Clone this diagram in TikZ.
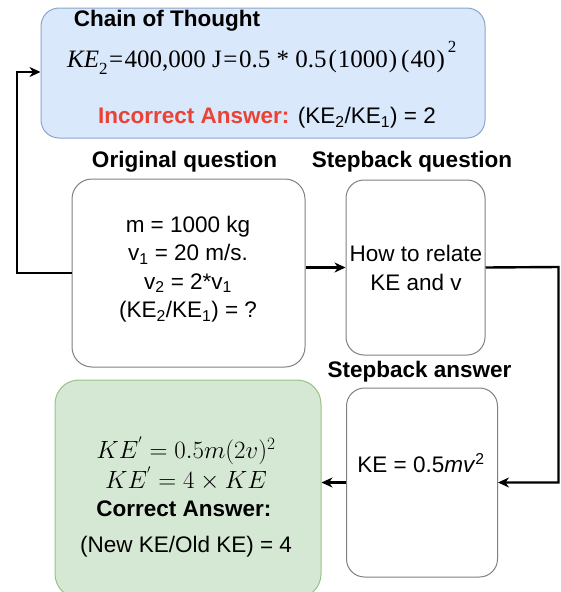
\documentclass[tikz,border=0pt]{standalone}
\usepackage{fontspec}
\setmainfont{Liberation Sans}
\newfontfamily\serifeq{Liberation Serif}
\usetikzlibrary{arrows.meta}
\definecolor{bluefill}{HTML}{DAE8FC}
\definecolor{bluedraw}{HTML}{6C8EBF}
\definecolor{greenfill}{HTML}{D5E8D4}
\definecolor{greendraw}{HTML}{82B366}
\definecolor{redtxt}{HTML}{EA4335}
\definecolor{boxgray}{HTML}{808080}
\tikzset{
  box/.style={draw=boxgray, line width=1pt, fill=white, rounded corners=20pt, inner sep=0pt},
  cotbox/.style={draw=bluedraw!80, line width=1pt, fill=bluefill, rounded corners=18pt, inner sep=0pt},
  okbox/.style={draw=greendraw!80, line width=1pt, fill=greenfill, rounded corners=24pt, inner sep=0pt},
  title/.style={font=\fontsize{22.5}{26}\selectfont\bfseries, inner sep=0pt},
  body/.style={font=\fontsize{22.5}{28.5}\selectfont, align=center, inner sep=0pt},
  mathtxt/.style={font=\fontsize{23.5}{26}\selectfont, inner sep=0pt},
  conn/.style={line width=2.4pt, -{Stealth[length=11pt,width=10pt,inset=3.5pt]}}
}
\begin{document}
\begin{tikzpicture}[x=1pt,y=-1pt]
\useasboundingbox (0,0) rectangle (561,592);
% boxes
\node[cotbox, minimum width=444pt, minimum height=130pt] (cot) at (263,73) {};
\node[box, minimum width=233pt, minimum height=188pt] (orig) at (188.5,273) {};
\node[box, minimum width=139pt, minimum height=175pt, rounded corners=18pt] (sq) at (415.5,267.5) {};
\node[box, minimum width=151pt, minimum height=189pt, rounded corners=18pt] (sa) at (422,482.5) {};
\node[okbox, minimum width=266pt, minimum height=218pt] (ok) at (188,489) {};
% box texts
\node[body] (origtext) at (188,269)
  {m = 1000 kg\\ v\textsubscript{1} = 20 m/s.\\ v\textsubscript{2} = 2*v\textsubscript{1}\\ (KE\textsubscript{2}/KE\textsubscript{1}) = ?};
\node[body] (sqtext) at (416,268) {How to relate\\ KE and v};
% titles
\node[title] (tcot) at (167,21) {Chain of Thought};
\node[title] (torig) at (184.5,162) {Original question};
\node[title] (tsq) at (412,162) {Stepback question};
\node[title] (tsa) at (419.5,372) {Stepback answer};
% CoT content
\node[inner sep=0pt, anchor=base west, font=\serifeq\fontsize{25}{28}\selectfont] (eq) at (67,67)
  {\textit{KE}\raisebox{-7pt}{\fontsize{17}{17}\selectfont 2}\kern1.5pt=\kern1.5pt400,000 J\kern1.5pt=\kern1.5pt0.5 * 0.5\kern2pt(\kern1pt1000\kern1pt)\kern4pt(\kern1pt40\kern1pt)\kern3pt\raisebox{15pt}{\fontsize{17}{17}\selectfont 2}};
\node[body] (inc) at (267,118) {\textcolor{redtxt}{\bfseries Incorrect Answer:} (KE\textsubscript{2}/KE\textsubscript{1}) = 2};
% stepback answer content
\node[body] (satext) at (421,463) {KE = 0.5\textit{mv}\textsuperscript{2}};
% correct answer content
\node[mathtxt] (ok1) at (186,451) {$KE^{'}=0.5m(2v)^{2}$};
\node[mathtxt] (ok2) at (186,479) {$KE^{'}=4\times KE$};
\node[title] (ok3) at (184,509) {Correct Answer:};
\node[body] (ok4) at (186,547) {(New KE/Old KE) = 4};
% connectors
\coordinate (lc) at (17,72);
\coordinate (rc) at (558.5,267);
\draw[conn] (orig.west) -| (lc) -- (lc -| cot.west);
\draw[conn] (orig.east |- sq.west) -- (sq.west);
\draw[conn] (sq.east) -- (rc) |- (sa.east);
\draw[conn] (sa.west) -- (sa.west -| ok.east);
\end{tikzpicture}
\end{document}
